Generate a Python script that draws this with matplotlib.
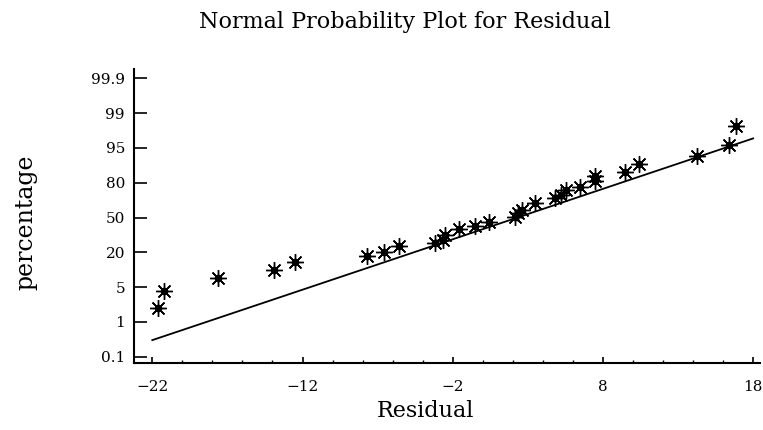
#!/usr/bin/env python3
"""
Normal probability plot of the regression residuals
"""
import numpy as np
import matplotlib
matplotlib.use("Agg")
import matplotlib.pyplot as plt

# residuals (x) and their plotting percentage (y)
residual = [-21.6, -21.2, -17.6, -13.9, -12.5, -7.7, -6.55, -5.6, -3.2,
            -2.65, -2.5, -1.6, -0.5, 0.4, 2.15, 2.35, 2.6, 3.5, 4.8, 5.2,
            5.55, 6.45, 7.45, 7.45, 9.5, 10.4, 14.25, 16.4, 16.85]
percentage = [2.56, 4.61, 8.8, 12.4, 15.7, 18.4, 20.0, 25.7, 28.5,
              30.6, 34.9, 40.1, 43.1, 46.1, 50.4, 53.9, 56.5, 62.2, 66.8,
              69.4, 73.7, 76.6, 80.7, 83.0, 84.7, 88.1, 91.6, 95.4, 97.5]

# reference line end points
line_x = [-22, 18]
line_pct = [0.53, 96.1]

prob_ticks = [0.1, 1, 5, 20, 50, 80, 95, 99, 99.9]
prob_labels = ["0.1", "1", "5", "20", "50", "80", "95", "99", "99.9"]
x_ticks = [-22, -12, -2, 8, 18]

PCT = np.array(prob_ticks, dtype=float)
IDX = np.arange(len(PCT), dtype=float)


def forward(p):
    """
    percentage -> equally spaced tick position
    """
    p = np.asarray(p, dtype=float)
    k = np.interp(p, PCT, IDX)
    k = np.where(p < PCT[0], (p - PCT[0]) / (PCT[1] - PCT[0]), k)
    k = np.where(p > PCT[-1],
                 IDX[-1] + (p - PCT[-1]) / (PCT[-1] - PCT[-2]), k)
    return k


def inverse(k):
    """
    tick position -> percentage
    """
    k = np.asarray(k, dtype=float)
    p = np.interp(k, IDX, PCT)
    p = np.where(k < 0, PCT[0] + k * (PCT[1] - PCT[0]), p)
    p = np.where(k > IDX[-1],
                 PCT[-1] + (k - IDX[-1]) * (PCT[-1] - PCT[-2]), p)
    return p


def main():
    """
    Main program
    """
    plt.rcParams["font.family"] = ["DejaVu Serif"]

    fig = plt.figure(figsize=(7.63, 4.30), dpi=100)
    ax = fig.add_axes([0.1756, 0.1558, 0.8205, 0.6837])

    ax.set_yscale("function", functions=(forward, inverse))

    ax.plot(line_x, line_pct, color="black", lw=1.3, zorder=2)
    ax.plot(residual, percentage, linestyle="none", marker=(8, 2, 0),
            markersize=12, markeredgewidth=1.0, color="black", zorder=3)
    ax.plot(residual, percentage, linestyle="none", marker="o",
            markersize=4.5, color="black", zorder=4)

    ax.set_xlim(-23.22, 18.46)
    ax.set_ylim(inverse(-0.18), inverse(8.27))

    ax.set_xticks(x_ticks)
    ax.set_xticks(np.arange(-22, 19, 2), minor=True)
    ax.set_yticks(prob_ticks, labels=prob_labels)
    ax.yaxis.set_minor_locator(matplotlib.ticker.NullLocator())

    for side in ("top", "right"):
        ax.spines[side].set_visible(False)
    for side in ("left", "bottom"):
        ax.spines[side].set_linewidth(1.5)

    ax.tick_params(axis="y", direction="in", length=9.5, width=1.2,
                   pad=6.5, labelsize=11)
    ax.tick_params(axis="x", which="major", direction="in", length=4.5,
                   width=1.2, pad=12, labelsize=11)
    ax.tick_params(axis="x", which="minor", direction="in", length=2.5,
                   width=1.0)

    ax.set_xlabel("Residual", fontsize=16)
    ax.xaxis.set_label_coords(0.466, -0.125)
    ax.set_ylabel("percentage", fontsize=17)
    ax.yaxis.set_label_coords(-0.155, 0.48)

    fig.text(0.531, 0.948, "Normal Probability Plot for Residual",
             ha="center", va="center", fontsize=16)

    fig.savefig("out.png", dpi=100)


if __name__ == '__main__':
    main()
